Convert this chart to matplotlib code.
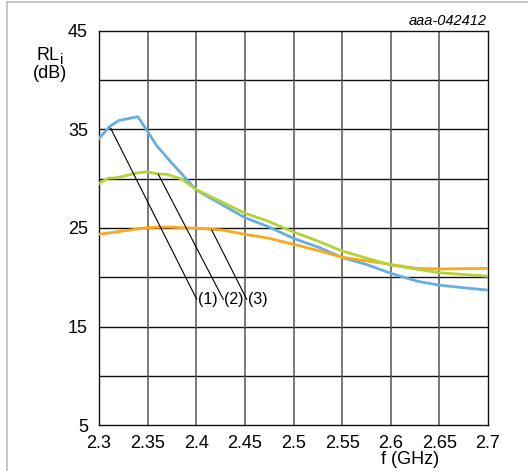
import matplotlib
matplotlib.use("Agg")
import matplotlib.pyplot as plt
from matplotlib.lines import Line2D

plt.rcParams['font.family'] = ['Liberation Sans', 'DejaVu Sans']

# Input return loss vs frequency
f_blue = [2.300, 2.311, 2.320, 2.340, 2.349, 2.359, 2.373, 2.400, 2.450, 2.4725,
          2.500, 2.527, 2.550, 2.575, 2.600, 2.627, 2.650, 2.678, 2.700]
rl_blue = [34.1, 35.3, 35.9, 36.3, 34.95, 33.4, 31.8, 28.86, 26.05, 25.2,
           23.95, 23.0, 22.0, 21.3, 20.4, 19.6, 19.2, 18.9, 18.7]

f_green = [2.300, 2.309, 2.318, 2.340, 2.349, 2.360, 2.370, 2.385, 2.400, 2.450,
           2.4725, 2.500, 2.527, 2.550, 2.600, 2.650, 2.700]
rl_green = [29.5, 30.05, 30.1, 30.6, 30.7, 30.5, 30.45, 29.97, 28.9, 26.5,
            25.74, 24.6, 23.6, 22.66, 21.24, 20.46, 20.1]

f_orange = [2.300, 2.349, 2.370, 2.400, 2.426, 2.450, 2.4725, 2.500, 2.527, 2.550,
            2.600, 2.626, 2.650, 2.700]
rl_orange = [24.36, 25.03, 25.1, 24.97, 24.8, 24.36, 24.0, 23.35, 22.67, 22.03,
             21.3, 20.9, 20.84, 20.9]

# Leader lines: (label, start point on curve, end point at label)
leaders = [
    ("(1)", (2.312, 35.12), (2.4005, 17.76)),
    ("(2)", (2.361, 30.45), (2.4278, 17.76)),
    ("(3)", (2.4159, 24.8), (2.4519, 17.76)),
]

x_ticks = [2.3, 2.35, 2.4, 2.45, 2.5, 2.55, 2.6, 2.65, 2.7]
x_tick_labels = ["2.3", "2.35", "2.4", "2.45", "2.5", "2.55", "2.6", "2.65", "2.7"]
y_ticks = [5, 15, 25, 35, 45]
y_grid = [10, 15, 20, 25, 30, 35, 40]

fig = plt.figure(figsize=(5.28, 4.71), dpi=100)
ax = fig.add_axes([99/528, 46/471, 389/528, 394/471])

for yv in y_grid:
    ax.axhline(yv, color='#111111', lw=1.0, zorder=1)
for xv in x_ticks[1:-1]:
    ax.axvline(xv, color='#555555', lw=1.1, zorder=1)

ax.plot(f_blue, rl_blue, color='#68ade2', lw=2.0, zorder=3, solid_joinstyle='round')
ax.plot(f_orange, rl_orange, color='#f8a91e', lw=2.0, zorder=3, solid_joinstyle='round')
ax.plot(f_green, rl_green, color='#b3d335', lw=2.0, zorder=4, solid_joinstyle='round')

for label, (x0, y0), (x1, y1) in leaders:
    ax.plot([x0, x1], [y0, y1], color='black', lw=0.8, zorder=5)
    ax.text(x1 + 0.0012, y1 - 0.05, label, fontsize=11.5, ha='left', va='center', zorder=6)

ax.set_xlim(2.3, 2.7)
ax.set_ylim(5, 45)
ax.set_xticks(x_ticks)
ax.set_xticklabels(x_tick_labels)
ax.set_yticks(y_ticks)
ax.tick_params(axis='both', length=0, labelsize=13)
ax.tick_params(axis='x', pad=7)
ax.tick_params(axis='y', pad=8)
for sp in ax.spines.values():
    sp.set_color('#111111')
    sp.set_linewidth(1.0)

fig.text(37/528, 1 - 55/471, "RL", fontsize=13, ha='left', va='center')
fig.text(60/528, 1 - 60/471, "i", fontsize=11, ha='left', va='center')
fig.text(50/528, 1 - 74/471, "(dB)", fontsize=13, ha='center', va='center')
fig.text(410/528, 1 - 459/471, "f (GHz)", fontsize=13, ha='center', va='center')
fig.text(487/528, 1 - 21/471, "aaa-042412", fontsize=10.5, style='italic',
         ha='right', va='center')

# Frame lines along the left and top of the figure
fig.add_artist(Line2D([7/528, 7/528], [0, 1 - 2/471], transform=fig.transFigure,
                      color='#bbbbbb', lw=1.2))
fig.add_artist(Line2D([7/528, 1], [1 - 2/471, 1 - 2/471], transform=fig.transFigure,
                      color='#bbbbbb', lw=1.2))

fig.savefig("out.png", dpi=100)
